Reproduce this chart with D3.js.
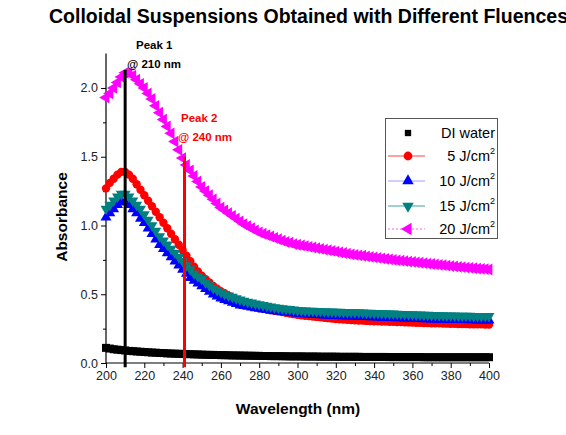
<!DOCTYPE html>
<html><head><meta charset="utf-8">
<script src="https://cdn.jsdelivr.net/npm/d3@7"></script>
<style>
html,body{margin:0;padding:0;background:#fff;}
svg{display:block;font-family:Arial,"Liberation Sans",sans-serif;}
</style></head>
<body>
<svg id="chart" width="566" height="435"></svg>
<script>
const wavelengths = d3.range(200, 401, 2);
const seriesNames = ["DI water", "5 J/cm", "10 J/cm", "15 J/cm", "20 J/cm"];
const diWater = [0.11,0.105,0.10,0.097,0.094,0.091,0.088,0.086,0.084,0.082,0.08,0.078,0.076,0.075,0.073,0.072,0.07,0.069,0.068,0.067,0.066,0.065,0.064,0.063,0.062,0.061,0.06,0.059,0.059,0.058,0.057,0.057,0.056,0.055,0.055,0.054,0.054,0.053,0.053,0.052,0.052,0.051,0.051,0.05,0.05,0.05,0.049,0.049,0.048,0.048,0.048,0.048,0.047,0.047,0.047,0.047,0.046,0.046,0.046,0.046,0.046,0.045,0.045,0.045,0.045,0.045,0.045,0.044,0.044,0.044,0.044,0.044,0.044,0.044,0.043,0.043,0.043,0.043,0.043,0.043,0.043,0.043,0.043,0.042,0.042,0.042,0.042,0.042,0.042,0.042,0.042,0.042,0.042,0.042,0.042,0.042,0.042,0.042,0.042,0.042,0.042];
const fluence5 = [1.27,1.31,1.34,1.37,1.39,1.39,1.37,1.34,1.30,1.26,1.22,1.18,1.14,1.10,1.06,1.02,0.98,0.94,0.90,0.86,0.82,0.78,0.74,0.70,0.665,0.635,0.61,0.585,0.56,0.54,0.52,0.505,0.49,0.475,0.46,0.45,0.44,0.43,0.42,0.41,0.40,0.395,0.39,0.385,0.38,0.375,0.37,0.365,0.36,0.355,0.35,0.347,0.344,0.341,0.338,0.335,0.332,0.329,0.326,0.323,0.32,0.318,0.316,0.314,0.312,0.31,0.309,0.308,0.306,0.305,0.304,0.303,0.302,0.301,0.30,0.299,0.298,0.297,0.296,0.295,0.294,0.293,0.292,0.291,0.29,0.289,0.288,0.288,0.287,0.286,0.285,0.285,0.284,0.283,0.283,0.282,0.282,0.281,0.281,0.28,0.28];
const fluence10 = [1.06,1.09,1.12,1.15,1.17,1.17,1.15,1.12,1.09,1.05,1.02,0.98,0.94,0.90,0.86,0.83,0.80,0.77,0.74,0.71,0.68,0.65,0.62,0.60,0.58,0.56,0.54,0.52,0.50,0.485,0.47,0.46,0.45,0.44,0.43,0.42,0.415,0.41,0.405,0.40,0.395,0.39,0.386,0.382,0.378,0.375,0.372,0.369,0.366,0.363,0.36,0.358,0.356,0.354,0.352,0.35,0.348,0.347,0.345,0.344,0.343,0.342,0.341,0.34,0.339,0.338,0.337,0.336,0.335,0.334,0.333,0.332,0.331,0.33,0.329,0.328,0.327,0.326,0.325,0.324,0.323,0.322,0.321,0.32,0.319,0.318,0.318,0.317,0.316,0.315,0.315,0.314,0.314,0.313,0.313,0.312,0.312,0.311,0.311,0.31,0.31];
const fluence15 = [1.12,1.15,1.18,1.21,1.23,1.23,1.21,1.18,1.15,1.12,1.08,1.04,1.00,0.96,0.92,0.89,0.86,0.83,0.80,0.77,0.74,0.71,0.68,0.65,0.63,0.61,0.585,0.565,0.545,0.53,0.515,0.50,0.49,0.48,0.47,0.46,0.452,0.445,0.438,0.432,0.426,0.42,0.415,0.41,0.405,0.40,0.397,0.394,0.391,0.388,0.385,0.383,0.381,0.379,0.378,0.377,0.376,0.375,0.374,0.373,0.372,0.371,0.37,0.37,0.369,0.368,0.367,0.366,0.365,0.364,0.363,0.362,0.361,0.36,0.359,0.358,0.357,0.356,0.355,0.354,0.353,0.352,0.351,0.35,0.349,0.348,0.347,0.346,0.346,0.345,0.344,0.344,0.343,0.343,0.342,0.342,0.341,0.341,0.34,0.34,0.34];
const fluence20 = [1.93,1.96,2.00,2.04,2.08,2.11,2.11,2.09,2.06,2.03,2.00,1.96,1.92,1.87,1.82,1.77,1.72,1.67,1.61,1.55,1.49,1.44,1.40,1.36,1.32,1.28,1.25,1.22,1.19,1.16,1.13,1.11,1.09,1.07,1.05,1.03,1.01,0.995,0.98,0.965,0.95,0.94,0.93,0.92,0.91,0.90,0.89,0.88,0.875,0.865,0.86,0.855,0.85,0.845,0.84,0.835,0.83,0.825,0.82,0.815,0.81,0.805,0.80,0.795,0.79,0.787,0.783,0.78,0.776,0.772,0.768,0.765,0.761,0.758,0.754,0.75,0.747,0.744,0.741,0.738,0.735,0.732,0.729,0.726,0.723,0.72,0.717,0.714,0.711,0.708,0.705,0.702,0.699,0.697,0.694,0.692,0.689,0.687,0.685,0.683,0.68];
const xTicks = [200,220,240,260,280,300,320,340,360,380,400];
const yTicks = [0.0,0.5,1.0,1.5,2.0];
const peakWavelengths = [210, 241];
const peakTops = [2.13, 1.5];

const seriesColors = ["#000000","#ff0000","#0000ff","#008080","#ff00ff"];
const legendLineColors = [null,"#ff4040","#a0a0ff","#40a0a0","#ff60ff"];
const seriesData = [diWater, fluence5, fluence10, fluence15, fluence20];

const svg = d3.select("#chart");
const x = d3.scaleLinear().domain([200,400]).range([106,489]);
const y = d3.scaleLinear().domain([0,2.25]).range([363,53.6]);

// title
svg.append("text").attr("x",49).attr("y",23).attr("font-size",19.5).attr("font-weight","bold").attr("fill","#000")
  .text("Colloidal Suspensions Obtained with Different Fluences");

// axes
const xAxis = svg.append("g").attr("transform","translate(0,363)")
  .call(d3.axisBottom(x).tickValues(xTicks).tickFormat(d3.format("d")).tickSize(5).tickPadding(3));
svg.append("g").attr("transform","translate(0,363)")
  .call(d3.axisBottom(x).tickValues(d3.range(210,400,20)).tickFormat("").tickSize(3))
  .select(".domain").remove();
const yAxis = svg.append("g").attr("transform","translate(106,0)")
  .call(d3.axisLeft(y).tickValues(yTicks).tickFormat(d3.format(".1f")).tickSize(5).tickPadding(3));
svg.append("g").attr("transform","translate(106,0)")
  .call(d3.axisLeft(y).tickValues([0.25,0.75,1.25,1.75]).tickFormat("").tickSize(3))
  .select(".domain").remove();
svg.selectAll(".domain").attr("stroke","#000").attr("stroke-width",1.2);
svg.selectAll(".tick line").attr("stroke","#000");
svg.selectAll(".tick text").attr("font-size",12.5).attr("fill","#222").attr("font-family","Arial,'Liberation Sans',sans-serif");
xAxis.select(".domain").attr("d","M106,0H489");
yAxis.select(".domain").attr("d","M0,363V53.6");

// axis titles
svg.append("text").attr("x",298).attr("y",414).attr("text-anchor","middle").attr("font-size",15.5).attr("font-weight","bold")
  .text("Wavelength (nm)");
svg.append("text").attr("transform","translate(67,217) rotate(-90)").attr("text-anchor","middle").attr("font-size",15.5).attr("font-weight","bold")
  .text("Absorbance");

// markers
const symbolDefs = [
  {type:d3.symbolSquare, size:64, rot:0},
  {type:d3.symbolCircle, size:55, rot:0},
  {type:d3.symbolTriangle, size:52, rot:0},
  {type:d3.symbolTriangle, size:52, rot:180},
  {type:d3.symbolTriangle, size:60, rot:-90}
];
const plot = svg.append("g");
seriesData.forEach((vals, si) => {
  const g = plot.append("g");
  const sym = d3.symbol().type(symbolDefs[si].type).size(symbolDefs[si].size)();
  g.selectAll("path").data(wavelengths.map((w,i)=>[w, vals[i]])).join("path")
    .attr("d", sym)
    .attr("transform", d => `translate(${x(d[0])},${y(d[1])}) rotate(${symbolDefs[si].rot})`)
    .attr("fill", seriesColors[si]);
});

// peak lines
const peakColors = ["#000000","#ff0000"];
peakWavelengths.forEach((w,i) => {
  svg.append("line").attr("x1",x(w)).attr("x2",x(w)).attr("y1",y(-0.03)).attr("y2",y(peakTops[i]))
    .attr("stroke",peakColors[i]).attr("stroke-width",3);
});

// annotations
svg.append("text").attr("x",136).attr("y",49).attr("font-size",11.5).attr("font-weight","bold").text("Peak 1");
svg.append("text").attr("x",127).attr("y",68).attr("font-size",11.5).attr("font-weight","bold").text("@ 210 nm");
svg.append("text").attr("x",181).attr("y",122).attr("font-size",11.5).attr("font-weight","bold").attr("fill","#ff0000").text("Peak 2");
svg.append("text").attr("x",178).attr("y",141).attr("font-size",11.5).attr("font-weight","bold").attr("fill","#ff0000").text("@ 240 nm");

// legend
const lg = svg.append("g");
lg.append("rect").attr("x",385.5).attr("y",118.5).attr("width",112).attr("height",120)
  .attr("fill","#fff").attr("stroke","#555").attr("stroke-width",1);
const ys = [133,156,181,206,229];
seriesNames.forEach((n,i) => {
  if (legendLineColors[i]) {
    lg.append("line").attr("x1",388).attr("x2",425).attr("y1",ys[i]).attr("y2",ys[i])
      .attr("stroke",legendLineColors[i]).attr("stroke-width",1)
      .attr("stroke-dasharray", i===4 ? "2,2" : null);
  }
  const sym = d3.symbol().type(symbolDefs[i].type).size(i===0?40:symbolDefs[i].size*1.1)();
  lg.append("path").attr("d",sym).attr("transform",`translate(408,${ys[i]}) rotate(${symbolDefs[i].rot})`).attr("fill",seriesColors[i]);
  const t = lg.append("text").attr("x",495).attr("y",ys[i]+5).attr("text-anchor","end").attr("font-size",14.5);
  if (i===0) t.text(n);
  else { t.append("tspan").text(n); t.append("tspan").attr("font-size",9).attr("dy",-7).text("2"); }
});
</script>
</body></html>
